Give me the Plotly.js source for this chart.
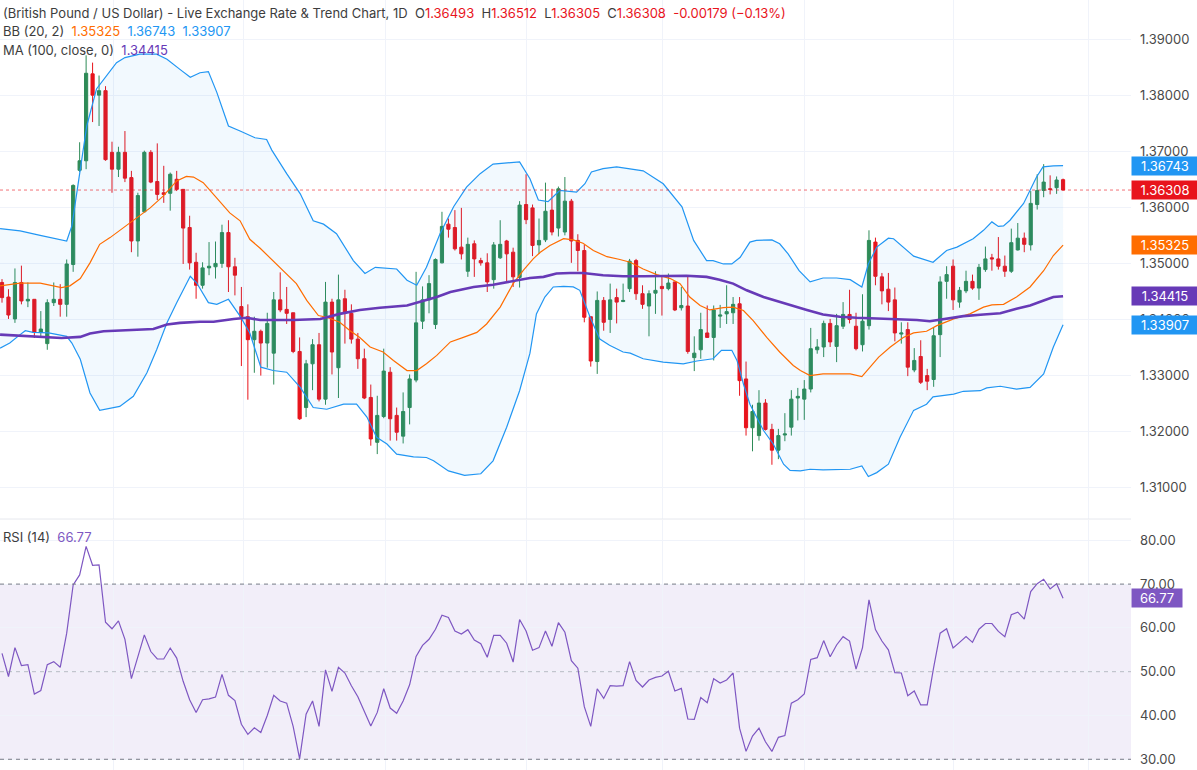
<!DOCTYPE html>
<html><head><meta charset="utf-8">
<script src="https://cdn.plot.ly/plotly-3.0.1.min.js"></script>
<style>html,body{margin:0;padding:0;background:#fff}#chart{width:1197px;height:770px}</style>
</head><body><div id="chart"></div>
<script>
// ---- Candles (daily GBP/USD) ----
const open = [
1.3466,1.3440,1.3401,1.3466,1.3433,1.3436,1.3377,1.3357,1.3430,1.3436,
1.3427,1.3498,1.3666,1.3683,1.3838,1.3800,1.3808,1.3698,1.3668,1.3698,
1.3653,1.3540,1.3592,1.3698,1.3646,1.3626,1.3625,1.3650,1.3632,1.3564,
1.3502,1.3461,1.3492,1.3494,1.3500,1.3555,1.3494,1.3423,1.3405,1.3364,
1.3379,1.3358,1.3340,1.3435,1.3418,1.3412,1.3343,1.3243,1.3321,1.3355,
1.3258,1.3431,1.3314,1.3437,1.3411,1.3365,1.3330,1.3261,1.3181,1.3227,
1.3306,1.3229,1.3192,1.3243,1.3292,1.3397,1.3435,1.3391,1.3501,1.3570,
1.3564,1.3529,1.3486,1.3535,1.3505,1.3501,1.3471,1.3510,1.3540,1.3520,
1.3475,1.3605,1.3599,1.3533,1.3542,1.3595,1.3563,1.3556,1.3611,1.3541,
1.3523,1.3405,1.3325,1.3434,1.3400,1.3439,1.3432,1.3455,1.3505,1.3446,
1.3424,1.3447,1.3459,1.3455,1.3467,1.3421,1.3424,1.3332,1.3346,1.3376,
1.3368,1.3406,1.3410,1.3412,1.3428,1.3294,1.3207,1.3193,1.3251,1.3204,
1.3167,1.3194,1.3208,1.3260,1.3258,1.3276,1.3346,1.3351,1.3393,1.3352,
1.3388,1.3409,1.3388,1.3355,1.3389,1.3538,1.3476,1.3454,1.3435,1.3374,
1.3382,1.3310,1.3334,1.3300,1.3293,1.3373,1.3468,1.3495,1.3431,1.3451,
1.3468,1.3456,1.3489,1.3510,1.3508,1.3495,1.3486,1.3524,1.3545,1.3533,
1.3605,1.3630,1.3633,1.3635,1.36493];
const high = [
1.3472,1.3454,1.3491,1.3496,1.3466,1.3436,1.3415,1.3436,1.3466,1.3463,
1.3507,1.3641,1.3716,1.3871,1.3858,1.3835,1.3816,1.3717,1.3708,1.3736,
1.3665,1.3626,1.3701,1.3702,1.3714,1.3674,1.3662,1.3665,1.3632,1.3585,
1.3519,1.3502,1.3538,1.3539,1.3569,1.3577,1.3510,1.3458,1.3427,1.3405,
1.3382,1.3412,1.3449,1.3484,1.3458,1.3412,1.3368,1.3328,1.3365,1.3376,
1.3467,1.3437,1.3480,1.3453,1.3427,1.3376,1.3348,1.3284,1.3264,1.3348,
1.3315,1.3243,1.3270,1.3302,1.3485,1.3459,1.3479,1.3509,1.3592,1.3580,
1.3595,1.3599,1.3546,1.3541,1.3510,1.3518,1.3538,1.3577,1.3542,1.3528,
1.3611,1.3659,1.3605,1.3580,1.3644,1.3633,1.3637,1.3654,1.3615,1.3552,
1.3533,1.3405,1.3450,1.3440,1.3464,1.3455,1.3464,1.3508,1.3508,1.3461,
1.3452,1.3486,1.3479,1.3482,1.3467,1.3458,1.3476,1.3370,1.3412,1.3425,
1.3425,1.3426,1.3461,1.3440,1.3440,1.3325,1.3248,1.3274,1.3258,1.3214,
1.3205,1.3233,1.3274,1.3278,1.3292,1.3385,1.3365,1.3398,1.3401,1.3410,
1.3431,1.3453,1.3412,1.3445,1.3559,1.3546,1.3483,1.3483,1.3457,1.3395,
1.3395,1.3349,1.3363,1.3312,1.3386,1.3477,1.3495,1.3507,1.3458,1.3487,
1.3480,1.3499,1.3530,1.3517,1.3547,1.3514,1.3562,1.3572,1.3555,1.3629,
1.3659,1.3677,1.3657,1.3655,1.36512];
const low = [
1.3430,1.3401,1.3394,1.3427,1.3422,1.3367,1.3370,1.3346,1.3424,1.3405,
1.3405,1.3485,1.3663,1.3668,1.3752,1.3745,1.3683,1.3626,1.3654,1.3645,
1.3520,1.3512,1.3591,1.3643,1.3613,1.3608,1.3594,1.3629,1.3499,1.3489,
1.3437,1.3455,1.3479,1.3473,1.3492,1.3449,1.3443,1.3317,1.3257,1.3305,
1.3300,1.3314,1.3284,1.3413,1.3392,1.3340,1.3221,1.3226,1.3274,1.3254,
1.3248,1.3302,1.3260,1.3357,1.3357,1.3312,1.3258,1.3175,1.3160,1.3224,
1.3184,1.3184,1.3179,1.3213,1.3288,1.3383,1.3411,1.3383,1.3500,1.3546,
1.3523,1.3507,1.3476,1.3476,1.3496,1.3449,1.3455,1.3508,1.3468,1.3458,
1.3457,1.3570,1.3513,1.3517,1.3538,1.3550,1.3548,1.3550,1.3501,1.3486,
1.3395,1.3316,1.3303,1.3380,1.3376,1.3393,1.3431,1.3449,1.3435,1.3419,
1.3370,1.3410,1.3407,1.3452,1.3415,1.3416,1.3339,1.3308,1.3330,1.3368,
1.3327,1.3385,1.3392,1.3392,1.3264,1.3193,1.3165,1.3184,1.3202,1.3141,
1.3151,1.3183,1.3193,1.3220,1.3221,1.3270,1.3339,1.3333,1.3351,1.3324,
1.3383,1.3393,1.3345,1.3343,1.3382,1.3461,1.3427,1.3415,1.3361,1.3357,
1.3299,1.3306,1.3285,1.3274,1.3280,1.3333,1.3437,1.3417,1.3421,1.3447,
1.3453,1.3435,1.3485,1.3487,1.3489,1.3476,1.3483,1.3523,1.3520,1.3523,
1.3596,1.3618,1.3623,1.3624,1.36305];
const close = [
1.3439,1.3408,1.3466,1.3433,1.3436,1.3377,1.3383,1.3430,1.3436,1.3427,
1.3499,1.3639,1.3683,1.3839,1.3800,1.3808,1.3685,1.3668,1.3698,1.3652,
1.3540,1.3621,1.3698,1.3645,1.3623,1.3623,1.3659,1.3632,1.3563,1.3501,
1.3461,1.3492,1.3495,1.3500,1.3555,1.3494,1.3479,1.3405,1.3364,1.3379,
1.3358,1.3393,1.3435,1.3417,1.3411,1.3343,1.3223,1.3321,1.3355,1.3258,
1.3431,1.3342,1.3435,1.3411,1.3365,1.3330,1.3260,1.3187,1.3229,1.3308,
1.3223,1.3199,1.3236,1.3294,1.3394,1.3435,1.3464,1.3507,1.3566,1.3561,
1.3526,1.3517,1.3534,1.3508,1.3501,1.3467,1.3533,1.3534,1.3517,1.3476,
1.3604,1.3578,1.3532,1.3541,1.3593,1.3556,1.3633,1.3611,1.3540,1.3523,
1.3404,1.3326,1.3434,1.3395,1.3435,1.3431,1.3434,1.3504,1.3446,1.3427,
1.3446,1.3452,1.3455,1.3465,1.3417,1.3425,1.3343,1.3340,1.3382,1.3368,
1.3417,1.3408,1.3414,1.3427,1.3291,1.3207,1.3236,1.3251,1.3204,1.3167,
1.3193,1.3196,1.3258,1.3263,1.3276,1.3348,1.3351,1.3393,1.3360,1.3389,
1.3409,1.3400,1.3348,1.3397,1.3541,1.3477,1.3451,1.3431,1.3376,1.3376,
1.3315,1.3327,1.3288,1.3290,1.3371,1.3467,1.3480,1.3435,1.3452,1.3468,
1.3456,1.3493,1.3508,1.3508,1.3495,1.3486,1.3537,1.3545,1.3534,1.3607,
1.3630,1.3645,1.3632,1.36487,1.36308];

// ---- Bollinger Bands (20, 2), read at candle positions ----
const bbUpperAt = [-0.3,2.8,5.9,10.0,10.8,12.1,13.1,14.6,16.2,17.7,19.0,21.3,23.9,25.5,27.5,29.1,30.6,31.9,33.2,35.0,36.8,39.1,40.9,41.7,44.0,46.1,48.1,49.7,51.7,54.3,56.1,57.7,61.0,62.6,64.1,65.6,67.7,69.8,71.8,73.9,75.9,80.0,81.6,82.9,84.4,86.2,88.8,90.1,91.1,92.9,95.0,98.1,99.1,102.2,105.1,106.9,108.9,109.9,111.5,112.8,114.1,115.6,116.6,119.0,120.2,121.5,123.2,124.9,126.9,129.0,131.1,132.9,133.9,135.2,137.0,137.8,139.3,140.9,143.9,146.0,147.6,150.1,151.7,153.0,154.0,154.8,155.8,157.9,159.9,160.9,162.5,164.0];
const bbUpper = [1.3562,1.3558,1.3550,1.3540,1.3567,1.3668,1.3745,1.3811,1.3835,1.3858,1.3867,1.3873,1.3873,1.3864,1.3846,1.3832,1.3840,1.3842,1.3805,1.3745,1.3736,1.3724,1.3721,1.3702,1.3660,1.3624,1.3576,1.3570,1.3553,1.3505,1.3482,1.3493,1.3490,1.3470,1.3461,1.3493,1.3553,1.3601,1.3636,1.3660,1.3677,1.3681,1.3651,1.3613,1.3610,1.3630,1.3627,1.3642,1.3663,1.3669,1.3672,1.3666,1.3665,1.3642,1.3601,1.3541,1.3505,1.3505,1.3499,1.3499,1.3511,1.3538,1.3541,1.3542,1.3535,1.3517,1.3487,1.3467,1.3474,1.3474,1.3471,1.3458,1.3499,1.3529,1.3545,1.3544,1.3529,1.3513,1.3502,1.3523,1.3529,1.3544,1.3559,1.3574,1.3566,1.3567,1.3577,1.3607,1.3654,1.3672,1.3674,1.36743];
const bbMidAt = [-0.3,2.8,5.9,9.2,10.5,12.1,13.6,15.1,16.7,18.8,20.8,22.9,24.9,27.0,28.5,29.6,31.1,33.2,35.2,36.8,38.3,39.9,41.9,44.0,45.5,47.1,48.9,50.2,52.2,53.8,55.3,56.9,58.9,60.5,62.6,64.1,65.6,67.2,69.3,71.3,73.4,74.9,77.0,79.0,80.6,82.1,83.2,84.7,86.8,88.3,89.8,91.4,93.5,95.5,97.1,99.1,101.2,103.3,104.8,106.3,107.9,109.4,111.5,113.0,114.6,116.1,118.2,120.2,122.3,123.4,124.9,126.9,131.1,132.9,134.2,135.5,137.3,139.3,140.9,142.9,144.5,147.1,149.6,151.7,153.0,154.8,156.8,158.9,161.0,162.5,164.0];
const bbMid = [1.3460,1.3465,1.3465,1.3457,1.3460,1.3473,1.3501,1.3534,1.3546,1.3564,1.3582,1.3599,1.3620,1.3647,1.3655,1.3654,1.3644,1.3617,1.3590,1.3576,1.3543,1.3527,1.3505,1.3482,1.3464,1.3434,1.3407,1.3404,1.3395,1.3380,1.3368,1.3351,1.3342,1.3327,1.3309,1.3309,1.3321,1.3336,1.3360,1.3368,1.3377,1.3392,1.3422,1.3464,1.3488,1.3508,1.3520,1.3532,1.3544,1.3542,1.3536,1.3523,1.3512,1.3507,1.3502,1.3490,1.3480,1.3473,1.3464,1.3440,1.3425,1.3417,1.3421,1.3422,1.3416,1.3398,1.3368,1.3342,1.3318,1.3309,1.3300,1.3303,1.3303,1.3298,1.3315,1.3333,1.3351,1.3368,1.3376,1.3379,1.3389,1.3401,1.3410,1.3422,1.3426,1.3427,1.3440,1.3458,1.3487,1.3514,1.35325];
const bbLowerAt = [-0.3,1.2,2.8,3.6,4.8,7.2,10.0,10.8,12.1,13.6,15.1,16.7,18.2,20.3,22.4,23.9,25.5,27.0,29.1,30.1,31.9,33.2,35.0,36.8,38.3,40.0,41.9,44.0,46.1,48.1,50.2,52.8,54.8,56.4,57.9,59.5,61.0,63.6,65.6,66.7,69.0,71.5,74.0,75.9,78.0,80.0,81.6,82.6,83.9,85.2,86.8,88.3,89.3,90.1,90.9,92.4,93.9,96.0,97.1,99.1,102.2,105.3,107.4,109.9,111.2,112.8,113.6,114.6,115.6,117.7,119.2,120.8,121.8,123.4,124.9,126.9,131.1,132.9,133.9,135.2,137.0,138.8,140.9,142.9,143.9,147.1,148.6,151.2,152.2,154.3,156.8,158.9,161.0,162.5,164.0];
const bbLower = [1.3349,1.3358,1.3373,1.3380,1.3377,1.3376,1.3370,1.3358,1.3329,1.3269,1.3238,1.3242,1.3245,1.3263,1.3305,1.3346,1.3394,1.3430,1.3477,1.3465,1.3430,1.3427,1.3436,1.3406,1.3376,1.3315,1.3309,1.3306,1.3279,1.3243,1.3240,1.3249,1.3249,1.3226,1.3190,1.3178,1.3160,1.3155,1.3154,1.3148,1.3130,1.3122,1.3125,1.3148,1.3208,1.3273,1.3340,1.3410,1.3440,1.3458,1.3459,1.3458,1.3452,1.3428,1.3404,1.3365,1.3354,1.3342,1.3340,1.3330,1.3324,1.3321,1.3326,1.3330,1.3345,1.3345,1.3327,1.3285,1.3249,1.3202,1.3178,1.3142,1.3131,1.3130,1.3133,1.3132,1.3133,1.3139,1.3120,1.3127,1.3142,1.3190,1.3238,1.3249,1.3262,1.3267,1.3272,1.3273,1.3278,1.3281,1.3276,1.3279,1.3303,1.3351,1.33907];

// ---- MA (100, close) ----
const maAt = [-0.3,2.8,5.9,9.2,12.1,13.6,15.7,18.2,21.3,23.4,25.5,27.5,30.6,32.7,35.8,37.8,39.9,45.0,49.2,52.2,55.3,58.4,62.6,64.6,67.2,69.3,72.9,75.9,79.0,81.6,83.7,85.7,87.8,89.8,92.9,96.0,99.1,102.2,105.8,108.9,110.9,113.0,115.1,117.7,120.2,121.8,124.4,126.9,129.5,132.1,137.3,141.4,143.4,145.5,148.6,151.7,154.3,156.8,158.9,161.0,162.5,164.0];
const ma100 = [1.3373,1.3371,1.3368,1.3367,1.3369,1.3375,1.3379,1.3380,1.3382,1.3383,1.3391,1.3394,1.3396,1.3396,1.3401,1.3403,1.3399,1.3399,1.3401,1.3410,1.3417,1.3421,1.3425,1.3431,1.3440,1.3449,1.3458,1.3462,1.3468,1.3474,1.3476,1.3482,1.3483,1.3483,1.3479,1.3477,1.3477,1.3478,1.3478,1.3476,1.3471,1.3464,1.3452,1.3440,1.3431,1.3426,1.3417,1.3409,1.3405,1.3403,1.3401,1.3399,1.3397,1.3401,1.3406,1.3409,1.3411,1.3419,1.3425,1.3434,1.3440,1.34415];

// ---- RSI (14) per candle ----
const rsi = [
54.2,48.9,55.5,51.4,51.6,44.9,45.7,51.6,52.3,51.0,
58.8,69.8,72.1,78.6,74.3,74.4,61.3,59.8,61.6,57.4,
48.4,53.7,58.4,54.6,52.9,52.9,55.4,53.1,47.8,43.6,
40.7,43.6,43.8,44.2,49.4,44.6,43.4,38.0,35.7,37.2,
36.1,40.0,44.6,43.3,42.8,37.5,30.1,40.3,43.3,37.5,
50.4,45.5,51.0,49.7,46.8,44.3,41.0,37.6,40.7,46.1,
41.7,40.5,43.3,47.0,53.5,56.0,57.4,59.7,62.9,62.4,
59.3,58.6,59.6,57.2,56.4,53.3,58.3,58.3,56.5,52.2,
61.9,59.3,54.9,55.5,59.3,55.8,61.2,59.0,52.5,50.8,
42.0,37.5,46.1,43.9,46.8,46.7,46.8,52.3,48.0,46.5,
48.1,48.7,49.0,50.1,45.6,46.2,39.2,39.1,44.1,42.9,
48.4,47.4,48.1,49.7,37.1,31.8,35.3,37.1,34.0,31.8,
35.0,35.4,42.8,43.6,44.9,52.8,53.2,57.1,53.4,56.1,
58.0,57.0,50.6,55.5,66.4,59.6,57.0,55.0,49.8,49.7,
44.5,45.6,42.4,42.4,51.0,58.8,59.8,55.4,56.7,58.0,
56.7,59.7,61.0,61.0,59.2,58.0,63.0,63.6,62.0,68.3,
70.1,71.1,68.9,70.1,66.77];

const rsiLevels = [70, 50, 30];
const title = '(British Pound / US Dollar) - Live Exchange Rate & Trend Chart, 1D';

// ---- styling ----
const FONT = 'Inter, "Noto Sans", "DejaVu Sans", sans-serif';
const RED = '#e8141c', GREEN = '#2e8b57', BLUE = '#2196f3', ORANGE = '#ff6d00';
const PURPLE = '#673ab7', RSIC = '#7e57c2', TXT = '#3d3d3d', GRID = '#f0f3fa';
const H = 770;
const py = px => 1 - px / H;           // pixel row -> paper y
const monthGrid = [17.2, 37.3, 59.2, 81.0, 102.1, 124.1, 147.0, 168.0];

const idx = close.map((_, i) => i);
const n = close.length;
const last = a => a[a.length - 1];

const traces = [
  { type: 'scatter', mode: 'lines', hoverinfo: 'skip',
    x: bbUpperAt.concat(bbLowerAt.slice().reverse()),
    y: bbUpper.concat(bbLower.slice().reverse()),
    fill: 'toself', fillcolor: 'rgba(33,150,243,0.06)', line: { width: 0 } },
  { type: 'candlestick', x: idx, open, high, low, close, whiskerwidth: 0,
    increasing: { line: { color: GREEN, width: 1 }, fillcolor: GREEN },
    decreasing: { line: { color: RED, width: 1 }, fillcolor: RED }, hoverinfo: 'skip' },
  { type: 'scatter', mode: 'lines', x: bbUpperAt, y: bbUpper, line: { color: BLUE, width: 1.2 } },
  { type: 'scatter', mode: 'lines', x: bbLowerAt, y: bbLower, line: { color: BLUE, width: 1.2 } },
  { type: 'scatter', mode: 'lines', x: bbMidAt, y: bbMid, line: { color: ORANGE, width: 1.2 } },
  { type: 'scatter', mode: 'lines', x: maAt, y: ma100, line: { color: PURPLE, width: 2.6 } },
  { type: 'scatter', mode: 'lines', x: idx, y: rsi, xaxis: 'x2', yaxis: 'y2', line: { color: RSIC, width: 1.2 } }
];

const span = (c, t) => `<span style="color:${c}">${t}</span>`;
const chg = close[n - 1] - close[n - 2];
const pct = chg / close[n - 2] * 100;
const sp = '\u00a0\u00a0';
const line1 = `${title}${sp}O${span(RED, open[n-1].toFixed(5))}${sp}H${span(RED, high[n-1].toFixed(5))}${sp}L${span(RED, low[n-1].toFixed(5))}${sp}C${span(RED, close[n-1].toFixed(5))}${sp}${span(RED, chg.toFixed(5) + ' (' + pct.toFixed(2).replace('-', '\u2212') + '%)')}`;
const line2 = `BB (20, 2)${sp}${span(ORANGE, last(bbMid).toFixed(5))}${sp}${span(BLUE, last(bbUpper).toFixed(5))}${sp}${span(BLUE, last(bbLower).toFixed(5))}`;
const line3 = `MA (100, close, 0)${sp}${span(PURPLE, last(ma100).toFixed(5))}`;
const line4 = `RSI (14)${sp}${span(RSIC, last(rsi).toFixed(2))}`;

const hdr = (text, yPx) => ({ xref: 'paper', yref: 'paper', x: 0, y: py(yPx), xanchor: 'left', yanchor: 'middle',
  xshift: 1, text, showarrow: false, font: { family: FONT, size: 13, color: TXT } });
const tag = (yref, y, text, color, w) => ({ xref: 'paper', x: 1, xanchor: 'left', yref, y, yanchor: 'middle',
  text, showarrow: false, bgcolor: color, width: w, height: 14, borderpad: 2, align: 'center',
  font: { family: FONT, size: 13, color: '#ffffff' } });

const annotations = [
  hdr(line1, 13), hdr(line2, 31), hdr(line3, 50), hdr(line4, 537),
  tag('y', last(bbUpper), last(bbUpper).toFixed(5), BLUE, 62),
  tag('y', close[n - 1], close[n - 1].toFixed(5), RED, 62),
  tag('y', last(bbMid), last(bbMid).toFixed(5), ORANGE, 62),
  tag('y', last(ma100), last(ma100).toFixed(5), PURPLE, 62),
  tag('y', last(bbLower), last(bbLower).toFixed(5), BLUE, 62),
  tag('y2', last(rsi), last(rsi).toFixed(2), RSIC, 46)
];

const shapes = [
  { type: 'rect', xref: 'paper', yref: 'y2', x0: 0, x1: 1, y0: rsiLevels[2], y1: rsiLevels[0],
    fillcolor: 'rgba(126,87,194,0.1)', line: { width: 0 }, layer: 'below' },
  ...rsiLevels.map(v => ({ type: 'line', xref: 'paper', yref: 'y2', x0: 0, x1: 1, y0: v, y1: v,
    line: { color: v === 50 ? 'rgba(120,123,134,0.45)' : '#787b86', width: 1, dash: '4px,4px' } })),
  { type: 'line', xref: 'paper', yref: 'y', x0: 0, x1: 1, y0: close[n - 1], y1: close[n - 1],
    line: { color: 'rgba(232,20,28,0.6)', width: 1, dash: 'dot' } },
  { type: 'line', xref: 'paper', yref: 'paper', x0: 0, x1: 1, y0: py(519), y1: py(519),
    line: { color: '#e6e8ee', width: 1 } }
];

const xBase = { range: [-0.31, 174.5], tickvals: monthGrid, showticklabels: false, ticks: '',
  showgrid: true, gridcolor: GRID, zeroline: false, showline: false, fixedrange: true };
const yTick = { family: FONT, size: 13, color: '#4a4a4a' };

const layout = {
  width: 1197, height: 770, margin: { l: 0, r: 66, t: 0, b: 0 },
  paper_bgcolor: '#ffffff', plot_bgcolor: '#ffffff', showlegend: false, hovermode: false,
  font: { family: FONT },
  xaxis: Object.assign({}, xBase, { anchor: 'y', rangeslider: { visible: false } }),
  xaxis2: Object.assign({}, xBase, { anchor: 'y2', matches: 'x' }),
  yaxis: { domain: [py(519), 1], range: [1.304429, 1.396964], side: 'right', tick0: 1.31, dtick: 0.01,
    tickformat: '.5f', gridcolor: GRID, zeroline: false, showline: false, ticks: '',
    tickfont: yTick, ticklabelstandoff: 8, fixedrange: true },
  yaxis2: { domain: [0, py(519.5)], range: [27.55, 84.75], side: 'right', tickvals: [30, 40, 50, 60, 70, 80],
    tickformat: '.2f', gridcolor: GRID, zeroline: false, showline: false, ticks: '',
    tickfont: yTick, ticklabelstandoff: 8, fixedrange: true },
  annotations, shapes
};

Plotly.newPlot('chart', traces, layout, { staticPlot: true, displayModeBar: false });
</script></body></html>
